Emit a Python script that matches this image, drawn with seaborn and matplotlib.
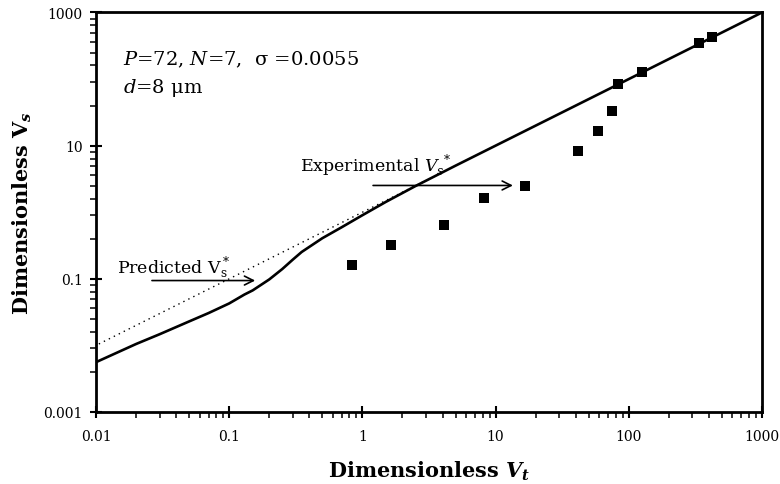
import matplotlib
matplotlib.use("Agg")
import numpy as np
import pandas as pd
import matplotlib.pyplot as plt
import seaborn as sns
from matplotlib.ticker import FixedLocator, FixedFormatter, NullFormatter

# Experimental settling velocities (dimensionless)
vt_exp = [0.83, 1.65, 4.1, 8.2, 16.6, 41.6, 58.4, 75.2, 83.2, 125, 336, 420]
vs_exp = [0.162, 0.323, 0.644, 1.62, 2.46, 8.18, 16.5, 32.8, 83.6, 126, 343, 421]

# Predicted curve
vt_pred = [0.01, 0.02, 0.03, 0.05, 0.07, 0.1, 0.13, 0.15, 0.2, 0.25, 0.3, 0.35,
           0.5, 0.7, 1, 1.5, 2.5, 5, 1000]
vs_pred = [0.0056, 0.0105, 0.0147, 0.0229, 0.0306, 0.0427, 0.058, 0.067, 0.098,
           0.14, 0.194, 0.253, 0.407, 0.596, 0.902, 1.43, 2.47, 5, 1000]

# Line Vs = Vt
vt_ref = [0.0105, 3.0]
vs_ref = [0.0105, 3.0]

x_ticks = [0.01, 0.1, 1, 10, 100, 1000]
x_tick_labels = ["0.01", "0.1", "1", "10", "100", "1000"]
y_ticks = [0.001, 0.1, 10, 1000]
y_tick_labels = ["0.001", "0.1", "10", "1000"]

sns.set_theme(style="ticks")
plt.rcParams["font.family"] = ["DejaVu Serif"]
plt.rcParams["mathtext.fontset"] = "custom"
plt.rcParams["mathtext.rm"] = "DejaVu Serif"
plt.rcParams["mathtext.it"] = "DejaVu Serif:italic"
plt.rcParams["mathtext.bf"] = "DejaVu Serif:bold"
plt.rcParams["mathtext.bfit"] = "DejaVu Serif:italic:bold"

fig = plt.figure(figsize=(7.8, 4.85), dpi=100)
ax = fig.add_axes([0.1231, 0.1485, 0.8538, 0.8237])

df_pred = pd.DataFrame({"Vt": vt_pred, "Vs": vs_pred})
df_ref = pd.DataFrame({"Vt": vt_ref, "Vs": vs_ref})
df_exp = pd.DataFrame({"Vt": vt_exp, "Vs": vs_exp})

sns.lineplot(data=df_ref, x="Vt", y="Vs", ax=ax, color="black", linewidth=1.0,
             dashes=False, estimator=None, sort=False)
ax.lines[-1].set_dashes([1.0, 3.0])
sns.lineplot(data=df_pred, x="Vt", y="Vs", ax=ax, color="black", linewidth=1.9,
             estimator=None, sort=False)
sns.scatterplot(data=df_exp, x="Vt", y="Vs", ax=ax, marker="s", s=55,
                color="black", edgecolor="black", linewidth=0, zorder=5)

ax.set_xscale("log")
ax.set_yscale("log")
ax.set_xlim(0.01, 1000)
ax.set_ylim(0.001, 1000)

ax.xaxis.set_major_locator(FixedLocator(x_ticks))
ax.xaxis.set_major_formatter(FixedFormatter(x_tick_labels))
x_minor = [k * 10.0 ** e for e in range(-2, 3) for k in range(2, 10)]
ax.xaxis.set_minor_locator(FixedLocator(x_minor))
ax.xaxis.set_minor_formatter(NullFormatter())

ax.yaxis.set_major_locator(FixedLocator(y_ticks))
ax.yaxis.set_major_formatter(FixedFormatter(y_tick_labels))
y_minor = [k * k * 10.0 ** b for b in (-3, -1, 1) for k in range(2, 10)]
ax.yaxis.set_minor_locator(FixedLocator(y_minor))
ax.yaxis.set_minor_formatter(NullFormatter())

ax.tick_params(axis="both", which="major", direction="inout", length=9,
               width=1.5, color="black", labelsize=10, pad=5, labelcolor="black")
ax.tick_params(axis="x", which="major", pad=8)
ax.tick_params(axis="both", which="minor", direction="out", length=4,
               width=1.1, color="black")

for side in ["left", "right", "top", "bottom"]:
    ax.spines[side].set_visible(True)
    ax.spines[side].set_linewidth(2.0)
    ax.spines[side].set_color("black")

ax.set_xlabel(r"Dimensionless $\mathbfit{V}_{\mathbfit{t}}$", fontsize=15,
              fontweight="bold", color="black")
ax.set_ylabel(r"Dimensionless $\mathbf{V}_{\mathbfit{s}}$", fontsize=15,
              fontweight="bold", color="black")
ax.xaxis.set_label_coords(0.5, -0.117)
ax.yaxis.set_label_coords(-0.093, 0.5)

ax.text(0.0405, 0.871, r"$P$=72, $N$=7,  σ =0.0055", transform=ax.transAxes,
        fontsize=14, va="baseline", ha="left", color="black")
ax.text(0.0405, 0.801, r"$d$=8 μm", transform=ax.transAxes,
        fontsize=14, va="baseline", ha="left", color="black")

ax.text(0.306, 0.604, r"Experimental $V_s^{\;*}$", transform=ax.transAxes,
        fontsize=12.5, va="baseline", ha="left", color="black")
ax.annotate("", xy=(0.626, 0.567), xytext=(0.416, 0.567),
            xycoords="axes fraction", textcoords="axes fraction",
            arrowprops=dict(arrowstyle="->", lw=1.2, color="black",
                            mutation_scale=16, shrinkA=0, shrinkB=0))

ax.text(0.0315, 0.35, r"Predicted $\mathrm{V_s^*}$", transform=ax.transAxes,
        fontsize=12.5, va="baseline", ha="left", color="black")
ax.annotate("", xy=(0.239, 0.329), xytext=(0.084, 0.329),
            xycoords="axes fraction", textcoords="axes fraction",
            arrowprops=dict(arrowstyle="->", lw=1.2, color="black",
                            mutation_scale=16, shrinkA=0, shrinkB=0))

fig.savefig("out.png", dpi=100, facecolor="white")
